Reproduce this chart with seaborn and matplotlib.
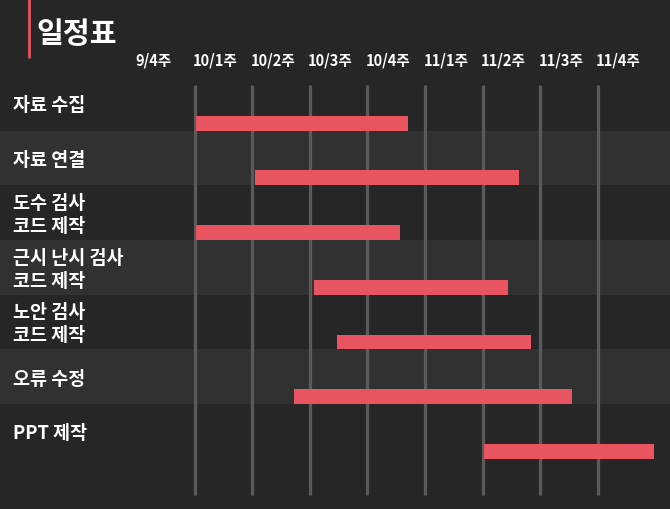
import matplotlib
matplotlib.use("Agg")
import matplotlib.pyplot as plt
from matplotlib.lines import Line2D
import seaborn as sns

# --- dados (semanas: 0 = 9/4주) ---
semanas = ["9/4주", "10/1주", "10/2주", "10/3주", "10/4주", "11/1주", "11/2주", "11/3주", "11/4주"]
tarefas = ["자료 수집", "자료 연결", "도수 검사\n코드 제작", "근시 난시 검사\n코드 제작",
           "노안 검사\n코드 제작", "오류 수정", "PPT 제작"]
inicio = [1.02, 2.05, 1.02, 3.07, 3.47, 2.73, 6.02]
fim = [4.71, 6.63, 4.57, 6.44, 6.84, 7.55, 8.98]
duracao = [f - i for i, f in zip(inicio, fim)]

FUNDO = "#262626"
FAIXA = "#313131"
LINHA = "#5a5a5a"
VERMELHO = "#e85561"

sns.set_theme(style="dark", rc={"axes.facecolor": FUNDO, "figure.facecolor": FUNDO})
plt.rcParams["font.family"] = ["Noto Sans CJK KR", "DejaVu Sans"]

fig = plt.figure(figsize=(6.7, 5.09), dpi=100)
ax = fig.add_axes([0, 0, 1, 1])
ax.set_facecolor(FUNDO)

ALTURA = 0.274
TOPO = ALTURA / 2 - 1  # topo da faixa em relacao ao centro da barra

# faixas alternadas
for k in range(len(tarefas)):
    if k % 2 == 1:
        ax.axhspan(k + TOPO, k + ALTURA / 2, color=FAIXA, zorder=0, lw=0)

# linhas verticais das semanas
ax.vlines(range(1, len(semanas)), -0.698, 6.797, color=LINHA, lw=2.3, zorder=1)

# barras
sns.barplot(x=duracao, y=tarefas, left=inicio, width=ALTURA, color=VERMELHO,
            saturation=1, errorbar=None, orient="h", ax=ax, zorder=2,
            linewidth=0, edgecolor="none")

ax.set_xlim(-2.378, 9.253)
ax.set_ylim(7.053, -2.252)
ax.set_xticks([])
ax.set_yticks([])
ax.set_xlabel("")
ax.set_ylabel("")
for s in ax.spines.values():
    s.set_visible(False)

# rotulos das tarefas
tr = ax.get_yaxis_transform()
for k, t in enumerate(tarefas):
    ax.text(13 / 670, k + TOPO + 0.5 + 0.04, t, transform=tr, ha="left", va="center",
            color="white", fontsize=13.3, fontweight="bold", linespacing=1.25)

# rotulos das semanas
for i, s in enumerate(semanas):
    ax.text(i - 0.03, -1.137, s, ha="left", va="center", color="white",
            fontsize=10.5, fontweight="bold")

# titulo
fig.text(36 / 670, 1 - 34 / 509, "일정표", ha="left", va="center", color="white",
         fontsize=21, fontweight="bold")
fig.add_artist(Line2D([28.5 / 670] * 2, [1, 1 - 57 / 509], transform=fig.transFigure,
                      color=VERMELHO, lw=2))

fig.savefig("out.png", dpi=100, facecolor=FUNDO)
